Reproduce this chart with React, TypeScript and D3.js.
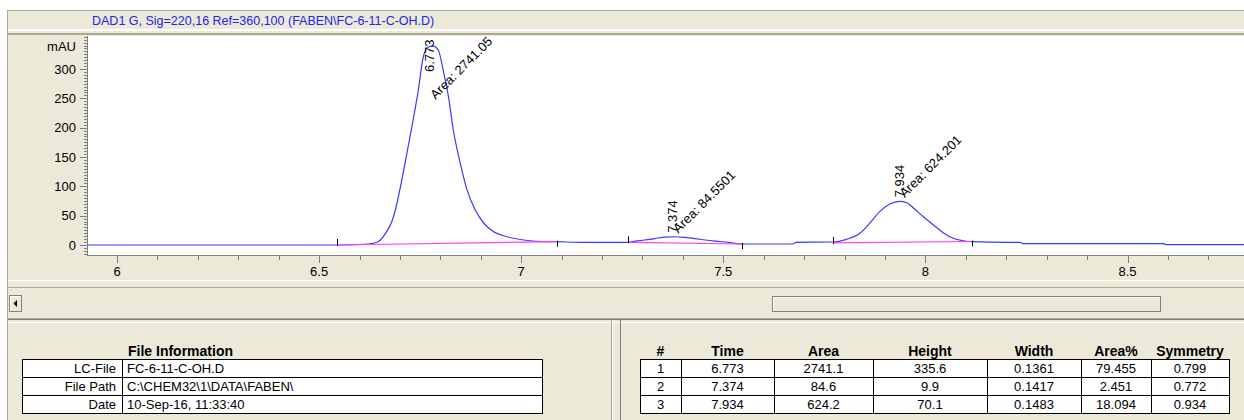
import React from 'react';
import * as d3 from 'd3';

// chromatogram (min, mAU)
const sigTime = [
  5.928, 6.544, 6.622, 6.646, 6.667, 6.68, 6.688, 6.696, 6.705, 6.715, 6.725, 6.735, 6.745, 6.757,
  6.769, 6.782, 6.795, 6.807, 6.82, 6.832, 6.849, 6.866, 6.886, 6.907, 6.932, 6.965, 7.006, 7.05,
  7.088, 7.15, 7.264, 7.282, 7.306, 7.331, 7.356, 7.38, 7.405, 7.43, 7.455, 7.48, 7.512, 7.546,
  7.672, 7.68, 7.771, 7.805, 7.838, 7.862, 7.887, 7.912, 7.937, 7.954, 7.974, 7.995, 8.02, 8.044,
  8.069, 8.094, 8.115, 8.2, 8.236, 8.24, 8.59, 8.595, 8.788,
];
const sigMAU = [
  0, 0, 1.7, 5.6, 22.7, 40, 58, 82, 112, 148, 185, 222, 262, 318,
  337, 339, 332, 298, 253, 196, 140, 94, 60, 37.5, 22.7, 14.1, 8.5, 6.0,
  5.6, 4.6, 4.6, 6.5, 8.5, 11, 13.5, 14.1, 13, 11, 8.5, 6.5, 4.5, 1.7,
  1.7, 4.6, 5.1, 9.7, 19.9, 37, 56.8, 69.9, 74.5, 72.1, 60.8, 48.2, 34.1, 21,
  11.4, 7.3, 5.6, 4.6, 4.6, 2.2, 2.2, 0.5, 0.5,
];

const peakRT = [6.773, 7.374, 7.934];
const peakAreaLabel = ['2741.05', '84.5501', '624.201'];
const peakStart = [6.544, 7.264, 7.771];
const peakStartBase = [0, 4.6, 3.5];
const peakEnd = [7.088, 7.546, 8.115];
const peakEndBase = [5.6, 1.7, 6];

const tableHeaders = ['#', 'Time', 'Area', 'Height', 'Width', 'Area%', 'Symmetry'];
const tableNo = ['1', '2', '3'];
const tableTime = ['6.773', '7.374', '7.934'];
const tableArea = ['2741.1', '84.6', '624.2'];
const tableHeight = ['335.6', '9.9', '70.1'];
const tableWidth = ['0.1361', '0.1417', '0.1483'];
const tableAreaPct = ['79.455', '2.451', '18.094'];
const tableSym = ['0.799', '0.772', '0.934'];

const fileInfoLabels = ['LC-File', 'File Path', 'Date'];
const fileInfoValues = ['FC-6-11-C-OH.D', 'C:\\CHEM32\\1\\DATA\\FABEN\\', '10-Sep-16, 11:33:40'];

const title = 'DAD1 G, Sig=220,16 Ref=360,100 (FABEN\\FC-6-11-C-OH.D)';

const W = 1244;
const H = 420;
const BEIGE = '#ece9d8';
const GRAY = '#aca899';
const DARK = '#808080';
const BLUE = '#3a3aff';
const PINK = '#ff3cff';
const FONT = "'Liberation Sans', Arial, sans-serif";

const plot = { left: 88, top: 36, right: W, bottom: 255 };

export default function App() {
  const x = d3.scaleLinear().domain([6, 8.5]).range([117, 1127.5]);
  const y = d3.scaleLinear().domain([0, 300]).range([245, 69]);

  const pts = sigTime.map((t, i) => [t, sigMAU[i]] as [number, number]);
  const line = d3.line<[number, number]>()
    .x(d => x(d[0]))
    .y(d => y(d[1]))
    .curve(d3.curveMonotoneX);

  const xTicks = d3.range(59, 88).map(i => ({ v: i / 10, major: i % 5 === 0 }))
    .filter(t => x(t.v) >= plot.left && x(t.v) <= plot.right);
  const yTicks = d3.range(-15, 356, 5).map(v => ({ v, major: v % 50 === 0 && v >= 0 && v <= 300 }));

  const peaks = peakRT.map((rt, i) => {
    const inPeak = pts.filter(p => p[0] >= peakStart[i] && p[0] <= peakEnd[i]);
    const apex = d3.max(inPeak, p => p[1]) ?? 0;
    const ax = x(rt);
    const ay = y(apex);
    return {
      rt, ax, ay,
      vy: Math.max(ay - 4, plot.top + 36),
      ay2: Math.max(ay - 3, plot.top + 64),
      area: peakAreaLabel[i],
      x0: x(peakStart[i]), y0: y(peakStartBase[i]),
      x1: x(peakEnd[i]), y1: y(peakEndBase[i]),
    };
  });

  const rows = tableNo.map((n, i) => [n, tableTime[i], tableArea[i], tableHeight[i], tableWidth[i], tableAreaPct[i], tableSym[i]]);
  const cols = [640, 681, 774, 873, 987, 1081, 1151, 1229];
  const rowY = [359, 377, 395, 413];

  return (
    <svg width={W} height={H} style={{ position: 'absolute', left: 0, top: 0, background: '#fff' }} fontFamily={FONT}>
      <defs>
        <clipPath id="plotClip">
          <rect x={plot.left} y={plot.top} width={plot.right - plot.left} height={plot.bottom - plot.top} />
        </clipPath>
      </defs>

      {/* window frame + title bar */}
      <rect x={8} y={11} width={W - 8} height={H - 11} fill={BEIGE} />
      <line x1={7} x2={W} y1={10.5} y2={10.5} stroke={GRAY} />
      <line x1={7.5} x2={7.5} y1={10} y2={H} stroke={GRAY} />
      <text x={92} y={24.5} fontSize={12.5} fill="#2323f0">{title}</text>
      <rect x={8} y={29} width={W - 8} height={2} fill="#fff" />
      <rect x={8} y={33} width={W - 8} height={2} fill={GRAY} />

      {/* plot area */}
      <rect x={plot.left} y={plot.top} width={plot.right - plot.left} height={plot.bottom - plot.top} fill="#fff" />
      <line x1={plot.left - 0.5} x2={plot.left - 0.5} y1={plot.top} y2={plot.bottom} stroke={DARK} />
      <line x1={plot.left - 1} x2={plot.right} y1={plot.bottom + 0.5} y2={plot.bottom + 0.5} stroke={DARK} />

      {yTicks.map(t => (
        <line key={`yt${t.v}`} x1={plot.left - (t.major ? 8 : 4)} x2={plot.left - 1} y1={Math.round(y(t.v)) + 0.5} y2={Math.round(y(t.v)) + 0.5} stroke={DARK} />
      ))}
      {yTicks.filter(t => t.major).map(t => (
        <text key={`yl${t.v}`} x={76} y={y(t.v) + 4.5} fontSize={13} textAnchor="end" fill="#000">{t.v}</text>
      ))}
      <text x={76} y={51} fontSize={13} textAnchor="end" fill="#000">mAU</text>

      {xTicks.map(t => (
        <line key={`xt${t.v}`} x1={Math.round(x(t.v)) + 0.5} x2={Math.round(x(t.v)) + 0.5} y1={plot.bottom + 1} y2={plot.bottom + (t.major ? 8 : 5)} stroke={DARK} />
      ))}
      {xTicks.filter(t => t.major).map(t => (
        <text key={`xl${t.v}`} x={x(t.v)} y={276} fontSize={13} textAnchor="middle" fill="#000">{d3.format('~g')(t.v)}</text>
      ))}

      <g clipPath="url(#plotClip)">
        <path d={line(pts) ?? ''} fill="none" stroke={BLUE} strokeWidth={1.2} />
        {peaks.map((p, i) => (
          <g key={`pk${i}`}>
            <line x1={p.x0} y1={p.y0} x2={p.x1} y2={p.y1} stroke={PINK} strokeWidth={1.2} />
            <line x1={Math.round(p.x0) + 0.5} x2={Math.round(p.x0) + 0.5} y1={p.y0 - 6} y2={p.y0 + 1} stroke="#000" />
            <line x1={Math.round(p.x1) + 0.5} x2={Math.round(p.x1) + 0.5} y1={p.y1 - 1} y2={p.y1 + 5} stroke="#000" />
            <text transform={`translate(${p.ax + 5},${p.vy}) rotate(-90)`} fontSize={13} fill="#000">{p.rt.toFixed(3)}</text>
            <text transform={`translate(${p.ax + 6},${p.ay2}) rotate(-45)`} fontSize={13} fill="#000">{`Area: ${p.area}`}</text>
          </g>
        ))}
      </g>

      {/* scrollbar */}
      <line x1={8} x2={W} y1={280.5} y2={280.5} stroke="#fff" />
      <line x1={8} x2={W} y1={287.5} y2={287.5} stroke={GRAY} />
      <rect x={9.5} y={295.5} width={12} height={16} fill={BEIGE} stroke={DARK} />
      <line x1={10.5} x2={10.5} y1={296} y2={311} stroke="#fff" />
      <line x1={10} x2={21} y1={296.5} y2={296.5} stroke="#fff" />
      <path d="M13.5,303.5 L17,300 L17,307 Z" fill="#000" />
      <rect x={772.5} y={296.5} width={388} height={15} fill={BEIGE} stroke={DARK} />
      <line x1={773.5} x2={1160} y1={297.5} y2={297.5} stroke="#fff" />
      <line x1={773.5} x2={773.5} y1={297.5} y2={311} stroke="#fff" />
      <line x1={8} x2={W} y1={318.5} y2={318.5} stroke={GRAY} />
      <line x1={8} x2={W} y1={319.5} y2={319.5} stroke={DARK} />
      <line x1={8} x2={W} y1={322.5} y2={322.5} stroke="#fff" />

      {/* splitter */}
      <line x1={611.5} x2={611.5} y1={320} y2={H} stroke={GRAY} />
      <line x1={612.5} x2={612.5} y1={320} y2={H} stroke="#fff" />
      <line x1={620.5} x2={620.5} y1={320} y2={H} stroke={DARK} />

      {/* file information */}
      <text x={128} y={356} fontSize={14} fontWeight="bold" fill="#000">File Information</text>
      <rect x={22.5} y={359.5} width={520} height={54} fill="#fff" stroke="#000" />
      {rowY.slice(1, 3).map(r => (
        <line key={`fr${r}`} x1={22.5} x2={542.5} y1={r + 0.5} y2={r + 0.5} stroke="#000" />
      ))}
      <line x1={122.5} x2={122.5} y1={359.5} y2={413.5} stroke="#000" />
      {fileInfoLabels.map((l, i) => (
        <g key={`fi${i}`}>
          <text x={116} y={rowY[i] + 14} fontSize={13} textAnchor="end" fill="#000">{l}</text>
          <text x={127} y={rowY[i] + 14} fontSize={13} fill="#000">{fileInfoValues[i]}</text>
        </g>
      ))}

      {/* peak table */}
      {tableHeaders.map((h, j) => (
        <text key={`th${j}`} x={(cols[j] + cols[j + 1]) / 2} y={356} fontSize={14} fontWeight="bold" textAnchor="middle" fill="#000">{h}</text>
      ))}
      <rect x={cols[0] + 0.5} y={359.5} width={cols[7] - cols[0]} height={54} fill="#fff" stroke="#000" />
      {rowY.slice(1, 3).map(r => (
        <line key={`pr${r}`} x1={cols[0]} x2={cols[7]} y1={r + 0.5} y2={r + 0.5} stroke="#000" />
      ))}
      {cols.slice(1, 7).map(c => (
        <line key={`pc${c}`} x1={c + 0.5} x2={c + 0.5} y1={359.5} y2={413.5} stroke="#000" />
      ))}
      {rows.map((r, i) => r.map((v, j) => (
        <text key={`td${i}-${j}`} x={(cols[j] + cols[j + 1]) / 2} y={rowY[i] + 14} fontSize={13} textAnchor="middle" fill="#000">{v}</text>
      )))}
    </svg>
  );
}
